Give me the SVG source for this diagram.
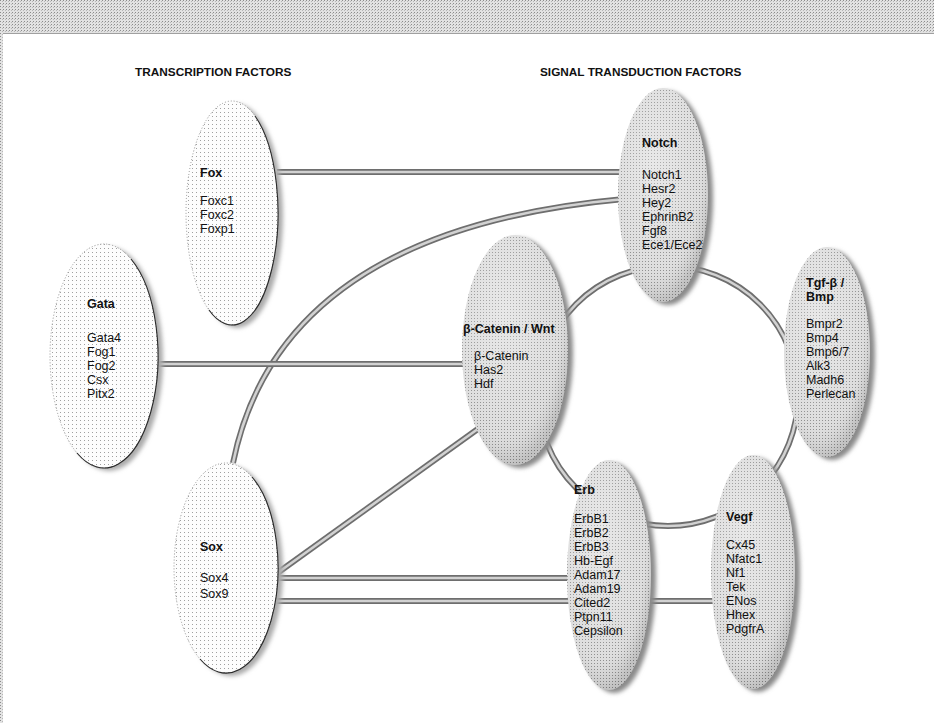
<svg xmlns="http://www.w3.org/2000/svg" width="934" height="723" viewBox="0 0 934 723">
<defs>
<style>
.h{font-family:"Liberation Sans",Arial,sans-serif;font-weight:bold;font-size:11.8px;fill:#111}
.t{font-family:"Liberation Sans",Arial,sans-serif;font-size:12.5px;fill:#111}
.tb{font-weight:bold}
.tube-o{fill:none;stroke:#6e6e6e;stroke-width:6}
.tube-i{fill:none;stroke:#d2d2d2;stroke-width:2.6}
.sig{fill:url(#dotS)}
.tra{fill:url(#dotT);stroke:#8a8a8a;stroke-width:0.9;stroke-dasharray:1 2}
.sh{fill:#8a8a8a;filter:url(#blur)}
.shT{fill:#ababab;filter:url(#blur)}
.gl{fill:url(#shine)}
.edge{fill:none;stroke:#2a2a2a;stroke-width:1.1}
</style>
<pattern id="dotS" width="3" height="3" patternUnits="userSpaceOnUse"><rect width="3" height="3" fill="#dcdcdc"/><rect width="1" height="1" fill="#8a8a8a"/></pattern>
<pattern id="dotT" width="4" height="4" patternUnits="userSpaceOnUse"><rect width="4" height="4" fill="#fdfdfd"/><rect width="1" height="1" fill="#a0a0a0"/></pattern>
<pattern id="dotB" width="3" height="3" patternUnits="userSpaceOnUse"><rect width="3" height="3" fill="#e2e2e2"/><rect width="1" height="1" fill="#8c8c8c"/><rect x="2" y="1" width="1" height="1" fill="#b8b8b8"/></pattern>
<radialGradient id="shine" cx="0.4" cy="0.35" r="0.65"><stop offset="0" stop-color="#fff" stop-opacity="0.35"/><stop offset="0.8" stop-color="#fff" stop-opacity="0.05"/><stop offset="1" stop-color="#000" stop-opacity="0.12"/></radialGradient>
<filter id="blur" x="-20%" y="-20%" width="140%" height="140%"><feGaussianBlur stdDeviation="2"/></filter>
<path id="c1" d="M277,172 H624"/>
<path id="c2" d="M233,463 Q280,230 624,199"/>
<path id="c3" d="M157,364 H470"/>
<path id="c4" d="M276,574 L482,426"/>
<path id="c5" d="M276,578 H590"/>
<path id="c6" d="M276,601 H740"/>
<circle id="c7" cx="668" cy="396" r="130"/>
</defs>

<rect width="934" height="723" fill="#fff"/>
<rect x="0" y="0" width="934" height="33" fill="url(#dotB)"/>
<rect x="0" y="33" width="3" height="690" fill="url(#dotB)"/>
<line x1="3" y1="33.5" x2="934" y2="33.5" stroke="#a0a0a0" stroke-width="1"/>

<text class="h" x="135" y="76">TRANSCRIPTION FACTORS</text>
<text class="h" x="540" y="76">SIGNAL TRANSDUCTION FACTORS</text>

<g id="connectors">
<use href="#c1" class="tube-o"/><use href="#c1" class="tube-i"/>
<use href="#c2" class="tube-o"/><use href="#c2" class="tube-i"/>
<use href="#c3" class="tube-o"/><use href="#c3" class="tube-i"/>
<use href="#c4" class="tube-o"/><use href="#c4" class="tube-i"/>
<use href="#c5" class="tube-o"/><use href="#c5" class="tube-i"/>
<use href="#c6" class="tube-o"/><use href="#c6" class="tube-i"/>
<use href="#c7" class="tube-o"/><use href="#c7" class="tube-i"/>
</g>

<g id="node-fox">
<ellipse class="shT" cx="237" cy="216" rx="46" ry="112"/>
<ellipse class="tra" cx="232" cy="213" rx="46" ry="112"/>
<path class="edge" d="M255,116 A46,112 0 0 1 209,310"/>
<text class="t tb" x="200" y="177">Fox</text>
<text class="t" x="200" y="205">Foxc1</text>
<text class="t" x="200" y="219">Foxc2</text>
<text class="t" x="200" y="233">Foxp1</text>
</g>

<g id="node-gata">
<ellipse class="shT" cx="109" cy="359" rx="54" ry="112"/>
<ellipse class="tra" cx="104" cy="356" rx="54" ry="112"/>
<path class="edge" d="M131,259 A54,112 0 0 1 77,453"/>
<text class="t tb" x="87" y="308">Gata</text>
<text class="t" x="87" y="342">Gata4</text>
<text class="t" x="87" y="356">Fog1</text>
<text class="t" x="87" y="370">Fog2</text>
<text class="t" x="87" y="384">Csx</text>
<text class="t" x="87" y="398">Pitx2</text>
</g>

<g id="node-sox">
<ellipse class="shT" cx="231" cy="571" rx="52" ry="105"/>
<ellipse class="tra" cx="226" cy="568" rx="52" ry="105"/>
<path class="edge" d="M252,477 A52,105 0 0 1 200,659"/>
<text class="t tb" x="200" y="551">Sox</text>
<text class="t" x="200" y="582">Sox4</text>
<text class="t" x="200" y="598">Sox9</text>
</g>

<g id="node-wnt">
<ellipse class="sh" cx="520" cy="353" rx="53" ry="115"/>
<ellipse class="sig" cx="515" cy="350" rx="53" ry="115"/>
<ellipse class="gl" cx="515" cy="350" rx="53" ry="115"/>
<text class="t tb" x="463" y="333">β-Catenin / Wnt</text>
<text class="t" x="474" y="360">β-Catenin</text>
<text class="t" x="474" y="374">Has2</text>
<text class="t" x="474" y="388">Hdf</text>
</g>

<g id="node-notch">
<ellipse class="sh" cx="668" cy="198" rx="45" ry="107"/>
<ellipse class="sig" cx="663" cy="195" rx="45" ry="107"/>
<ellipse class="gl" cx="663" cy="195" rx="45" ry="107"/>
<text class="t tb" x="642" y="147">Notch</text>
<text class="t" x="642" y="179">Notch1</text>
<text class="t" x="642" y="193">Hesr2</text>
<text class="t" x="642" y="207">Hey2</text>
<text class="t" x="642" y="221">EphrinB2</text>
<text class="t" x="642" y="235">Fgf8</text>
<text class="t" x="642" y="249">Ece1/Ece2</text>
</g>

<g id="node-tgf">
<ellipse class="sh" cx="832" cy="355" rx="43" ry="105"/>
<ellipse class="sig" cx="827" cy="352" rx="43" ry="105"/>
<ellipse class="gl" cx="827" cy="352" rx="43" ry="105"/>
<text class="t tb" x="806" y="287">Tgf-β /</text>
<text class="t tb" x="806" y="301">Bmp</text>
<text class="t" x="806" y="328">Bmpr2</text>
<text class="t" x="806" y="342">Bmp4</text>
<text class="t" x="806" y="356">Bmp6/7</text>
<text class="t" x="806" y="370">Alk3</text>
<text class="t" x="806" y="384">Madh6</text>
<text class="t" x="806" y="398">Perlecan</text>
</g>

<g id="node-erb">
<ellipse class="sh" cx="614" cy="578" rx="42" ry="115"/>
<ellipse class="sig" cx="609" cy="575" rx="42" ry="115"/>
<ellipse class="gl" cx="609" cy="575" rx="42" ry="115"/>
<text class="t tb" x="574" y="494">Erb</text>
<text class="t" x="574" y="523">ErbB1</text>
<text class="t" x="574" y="537">ErbB2</text>
<text class="t" x="574" y="551">ErbB3</text>
<text class="t" x="574" y="565">Hb-Egf</text>
<text class="t" x="574" y="579">Adam17</text>
<text class="t" x="574" y="593">Adam19</text>
<text class="t" x="574" y="607">Cited2</text>
<text class="t" x="574" y="621">Ptpn11</text>
<text class="t" x="574" y="635">Cepsilon</text>
</g>

<g id="node-vegf">
<ellipse class="sh" cx="758" cy="575" rx="42" ry="117"/>
<ellipse class="sig" cx="753" cy="572" rx="42" ry="117"/>
<ellipse class="gl" cx="753" cy="572" rx="42" ry="117"/>
<text class="t tb" x="726" y="521">Vegf</text>
<text class="t" x="726" y="549">Cx45</text>
<text class="t" x="726" y="563">Nfatc1</text>
<text class="t" x="726" y="577">Nf1</text>
<text class="t" x="726" y="591">Tek</text>
<text class="t" x="726" y="605">ENos</text>
<text class="t" x="726" y="619">Hhex</text>
<text class="t" x="726" y="633">PdgfrA</text>
</g>
</svg>
